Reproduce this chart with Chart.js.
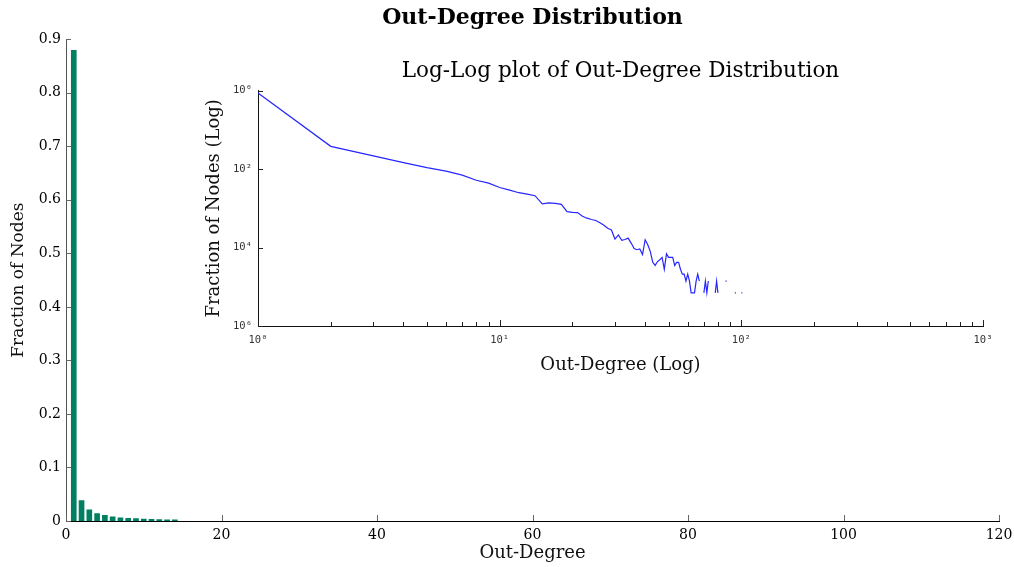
<!DOCTYPE html>
<html><head><meta charset="utf-8">
<script src="https://cdn.jsdelivr.net/npm/chart.js@4"></script>
<style>
html,body{margin:0;padding:0;background:#fff;}
#wrap{position:relative;width:1014px;height:567px;overflow:hidden;}
#main{position:absolute;left:0;top:0;}
#inset{position:absolute;left:195px;top:50px;}
</style></head><body>
<div id="wrap"><canvas id="main" width="1014" height="567"></canvas><canvas id="inset" width="810" height="330"></canvas></div>
<script>
// ---- data: main bar chart ----
const barDegrees = [1,2,3,4,5,6,7,8,9,10,11,12,13,14];
const barValues  = [0.879,0.038,0.021,0.014,0.0105,0.008,0.006,0.005,0.0043,0.0034,0.0029,0.0025,0.0023,0.0021];
const mainXTicks = [0,20,40,60,80,100,120];
const mainYTicks = [0,0.1,0.2,0.3,0.4,0.5,0.6,0.7,0.8,0.9];
const mainYTickLabels = ['0','0.1','0.2','0.3','0.4','0.5','0.6','0.7','0.8','0.9'];

// ---- data: inset log-log line (null = no nodes, gap in the log plot) ----
const logDegrees = [1,2,3,4,5,6,7,8,9,10,11,12,13,14,15,16,17,18,19,20,
  21,22,23,24,25,26,27,28,29,30,31,32,33,34,35,36,37,38,39,40,
  41,42,43,44,45,46,47,48,49,50,51,52,53,54,55,56,57,58,59,60,
  61,62,63,64,65,66,67,68,69,70,71,72,73,74,75,76,77,78,79,80,
  81,82,83,84,85,86,87,88,89,90,91,92,93,94,95,96,97,98,99,100,101];
const logValues = [0.873,0.038,0.0217,0.0146,0.0109,0.0089,0.0070,0.0052,0.0044,0.0034,
  0.0029,0.0025,0.0023,0.0021,0.0013,0.00138,0.00133,0.00126,0.00082,0.00079,
  0.00078,0.00063,0.00056,0.00052,0.00049,0.00043,0.00037,0.00031,0.00028,0.000165,
  0.00021,0.000152,0.00016,0.000174,0.00013,0.000095,0.000088,0.000092,0.000066,0.000158,
  0.000118,0.00008,0.000042,0.000035,0.000044,0.000049,0.000056,0.000028,0.000069,0.000056,
  0.000056,0.000056,0.000035,0.000042,0.000042,0.000028,0.000021,0.000021,0.000014,0.000021,
  0.000014,0.000007,0.000007,0.000007,0.000014,0.000021,0.000014,null,null,0.000007,
  0.000014,0.000007,0.000014,null,null,null,null,0.000007,0.000014,0.000007,
  null,null,null,null,null,0.000014,0.000014,null,null,null,
  null,null,null,0.000007,0.000007,null,null,null,null,0.000007,0.000007];
const insetXTicks = [1,10,100,1000];
const insetXTickLabels = ['10\u2070','10\u00B9','10\u00B2','10\u00B3'];
const insetXMinorTicks = [2,3,4,5,6,7,8,9,20,30,40,50,60,70,80,90,200,300,400,500,600,700,800,900];
const insetYTicks = [1,1e-2,1e-4,1e-6];
const insetYTickLabels = ['10\u2070','10\u00B2','10\u2074','10\u2076'];

// ---- inward tick plugin ----
const inwardTicks = {
  id: 'inwardTicks',
  afterDraw(chart, args, opts) {
    const ctx = chart.ctx;
    ctx.save();
    (opts.specs || []).forEach(s => {
      const sc = chart.scales[s.axis];
      ctx.strokeStyle = s.color;
      ctx.lineWidth = 1;
      s.values.forEach(v => {
        const p = Math.round(sc.getPixelForValue(v)) + 0.5;
        ctx.beginPath();
        if (sc.isHorizontal()) {
          const b = Math.round(sc.top);
          ctx.moveTo(p, b); ctx.lineTo(p, b - s.len);
        } else {
          const l = Math.round(sc.right);
          ctx.moveTo(l, p); ctx.lineTo(l + s.len, p);
        }
        ctx.stroke();
      });
    });
    ctx.restore();
  }
};

const SERIF = "'DejaVu Serif', serif";

// ---- main chart ----
new Chart(document.getElementById('main'), {
  type: 'bar',
  data: { datasets: [{
    data: barDegrees.map((d, i) => ({ x: d, y: barValues[i] })),
    backgroundColor: '#008060', borderWidth: 0, barThickness: 5
  }]},
  options: {
    responsive: false, animation: false, devicePixelRatio: 1,
    layout: { padding: { left: 0, right: 15, top: 0, bottom: 0 } },
    plugins: {
      legend: { display: false }, tooltip: { enabled: false },
      title: { display: true, fullSize: false, text: 'Out-Degree Distribution', color: '#000',
        font: { family: SERIF, size: 22, weight: 'bold', lineHeight: 1.1 }, padding: { top: 6, bottom: 9 } },
      inwardTicks: { specs: [
        { axis: 'x', values: mainXTicks, len: 6, color: '#666' },
        { axis: 'y', values: mainYTicks, len: 5, color: '#666' }
      ]}
    },
    scales: {
      x: {
        type: 'linear', min: 0, max: 120, offset: false,
        grid: { display: false, drawTicks: false, offset: false },
        border: { display: true, color: '#000', width: 1 },
        afterBuildTicks: s => { s.ticks = mainXTicks.map(v => ({ value: v })); },
        ticks: { padding: 6, color: '#000', font: { family: SERIF, size: 14 }, maxRotation: 0, autoSkip: false },
        title: { display: true, text: 'Out-Degree', color: '#111', font: { family: SERIF, size: 18 }, padding: { top: 3, bottom: 3 } },
        afterFit: s => { s.height = 46; s.paddingLeft = 0; s.paddingRight = 0; }
      },
      y: {
        type: 'linear', min: 0, max: 0.9,
        grid: { display: false, drawTicks: false },
        border: { display: true, color: '#555', width: 1 },
        afterBuildTicks: s => { s.ticks = mainYTicks.map(v => ({ value: v })); },
        ticks: { padding: 5, color: '#000', font: { family: SERIF, size: 14 },
          callback: (v) => mainYTickLabels[mainYTicks.findIndex(t => Math.abs(t - v) < 1e-9)] },
        title: { display: true, text: 'Fraction of Nodes', color: '#111', font: { family: SERIF, size: 17 }, padding: { top: 8, bottom: 4 } },
        afterFit: s => { s.width = 66; s.paddingTop = 0; s.paddingBottom = 0; }
      }
    }
  },
  plugins: [inwardTicks]
});

// ---- inset chart ----
const MONO = "'DejaVu Sans Mono', 'Liberation Mono', monospace";
new Chart(document.getElementById('inset'), {
  type: 'line',
  data: { datasets: [{
    data: logDegrees.map((d, i) => ({ x: d, y: logValues[i] })),
    borderColor: '#2626ff', borderWidth: 1.2, pointRadius: 0, spanGaps: false, tension: 0, fill: false
  }]},
  options: {
    responsive: false, animation: false, devicePixelRatio: 1,
    layout: { padding: { left: 0, right: 22, top: 0, bottom: 0 } },
    plugins: {
      legend: { display: false }, tooltip: { enabled: false },
      title: { display: true, fullSize: false, text: 'Log-Log plot of Out-Degree Distribution', color: '#000',
        font: { family: SERIF, size: 21.5, weight: 'normal', lineHeight: 1.1 }, padding: { top: 10, bottom: 7 } },
      inwardTicks: { specs: [
        { axis: 'x', values: insetXTicks, len: 6, color: '#222' },
        { axis: 'x', values: insetXMinorTicks, len: 4, color: '#222' },
        { axis: 'y', values: insetYTicks, len: 5, color: '#222' }
      ]}
    },
    scales: {
      x: {
        type: 'logarithmic', min: 1, max: 1000,
        grid: { display: false, drawTicks: false },
        border: { display: true, color: '#111', width: 1 },
        afterBuildTicks: s => { s.ticks = insetXTicks.map(v => ({ value: v })); },
        ticks: { padding: 8, color: '#333', font: { family: MONO, size: 10.5 }, maxRotation: 0, autoSkip: false,
          callback: (v) => insetXTickLabels[insetXTicks.indexOf(v)] },
        title: { display: true, text: 'Out-Degree (Log)', color: '#111', font: { family: SERIF, size: 18 }, padding: { top: 9, bottom: 4 } },
        afterFit: s => { s.height = 54; s.paddingLeft = 0; s.paddingRight = 0; }
      },
      y: {
        type: 'logarithmic', min: 1e-6, max: 1,
        grid: { display: false, drawTicks: false },
        border: { display: true, color: '#111', width: 1 },
        afterBuildTicks: s => { s.ticks = insetYTicks.map(v => ({ value: v })); },
        ticks: { padding: 6, color: '#333', font: { family: MONO, size: 10.5 }, autoSkip: false,
          callback: (v) => insetYTickLabels[insetYTicks.findIndex(t => Math.abs(Math.log10(t) - Math.log10(v)) < 1e-6)] },
        title: { display: true, text: 'Fraction of Nodes (Log)', color: '#111', font: { family: SERIF, size: 18 }, padding: { top: 9, bottom: 4 } },
        afterFit: s => { s.width = 63; s.paddingTop = 0; s.paddingBottom = 0; }
      }
    }
  },
  plugins: [inwardTicks]
});
</script>
</body></html>
